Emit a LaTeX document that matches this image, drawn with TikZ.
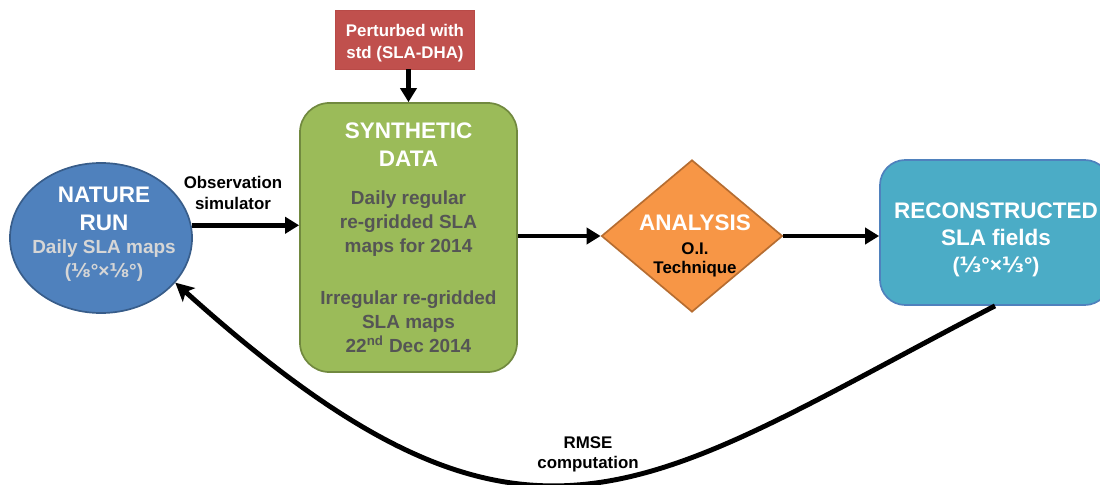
\documentclass[tikz,border=0pt]{standalone}
\usepackage{fontspec}
\setmainfont{Liberation Sans}
\newfontfamily\fracfont{DejaVu Sans}
\usetikzlibrary{shapes.geometric,arrows.meta}
\definecolor{natureblue}{HTML}{4F81BD}
\definecolor{natureline}{HTML}{385D8A}
\definecolor{naturegray}{HTML}{D6D6D6}
\definecolor{synthgreen}{HTML}{9BBB59}
\definecolor{synthline}{HTML}{71893F}
\definecolor{bodygray}{HTML}{555555}
\definecolor{perturbred}{HTML}{C0504D}
\definecolor{perturbline}{HTML}{B84A47}
\definecolor{analysisorange}{HTML}{F79646}
\definecolor{analysisline}{HTML}{B66D31}
\definecolor{reconteal}{HTML}{4BACC6}
\definecolor{reconline}{HTML}{4F81BD}
\begin{document}
\begin{tikzpicture}[x=0.025cm,y=-0.025cm,
box/.style={draw,line width=1.2pt,inner sep=0},
title/.style={align=center,text=white,font=\bfseries\fontsize{16}{20}\selectfont},
body/.style={align=center,text=bodygray,font=\bfseries\fontsize{13.5}{17}\selectfont},
note/.style={align=center,font=\bfseries\fontsize{12}{15}\selectfont},
flow/.style={-{Triangle[length=10pt,width=11.5pt]},line width=3.3pt},
rmse/.style={-{Stealth[length=13pt,width=13pt,inset=3pt]},line width=3.5pt},
]
\useasboundingbox(0,0)rectangle(1100,485);
%nature run
\node[box,ellipse,draw=natureline,fill=natureblue,minimum width=4.55cm,minimum height=3.75cm](nature)at(101,238){};
\node[title](naturetitle)at(104,208.5){NATURE\\RUN};
\node[body,text=naturegray](naturebody)at(104,261){Daily SLA maps\\({\fracfont ⅛}°×{\fracfont ⅛}°)};
%observation simulator
\node[note](obslabel)at(233,193){Observation\\simulator};
%perturbation
\node[box,line width=0.6pt,draw=perturbline,fill=perturbred,minimum width=3.475cm,minimum height=1.475cm](perturb)at(404.5,39.5){};
\node[note,text=white,font=\bfseries\fontsize{12}{15.6}\selectfont](perturbtext)at(405,43){Perturbed with\\std (SLA-DHA)};
%synthetic data
\node[box,rounded corners=21pt,draw=synthline,fill=synthgreen,minimum width=5.425cm,minimum height=6.725cm](synth)at(408.5,237.5){};
\node[title](synthtitle)at(408.5,144.5){SYNTHETIC\\DATA};
\node[body](synthdaily)at(408.5,223.5){Daily regular\\re-gridded SLA\\maps for 2014};
\node[body](synthirreg)at(408.5,322){Irregular re-gridded\\SLA maps\\22\textsuperscript{nd} Dec 2014};
%analysis
\node[box,diamond,draw=analysisline,fill=analysisorange,minimum width=4.525cm,minimum height=3.8cm](analysis)at(692,236){};
\node[title](analysistitle)at(695,223){ANALYSIS};
\node[note,font=\bfseries\fontsize{12}{13.5}\selectfont](analysisnote)at(695,260){O.I.\\Technique};
%reconstructed fields
\node[box,rounded corners=18pt,draw=reconline,fill=reconteal,minimum width=5.75cm,minimum height=3.625cm](recon)at(995,232.5){};
\node[title,font=\bfseries\fontsize{16}{19.2}\selectfont](recontitle)at(996,224.5){RECONSTRUCTED\\SLA fields};
\node[title,font=\bfseries\fontsize{15}{18}\selectfont](reconres)at(996,266.5){({\fracfont ⅓}°×{\fracfont ⅓}°)};

%arrows
\draw[flow](nature.8)--(nature.8 -| synth.west);
\draw[flow](perturb.south -| synth.north)--(synth.north);
\draw[flow](analysis.west -| synth.east)--(analysis.west);
\draw[flow](analysis.east)--(analysis.east -| recon.west);
%rmse loop
\draw[rmse](recon.south)..controls(640,490)and(530,602)..(nature.-31);
\node[note,font=\bfseries\fontsize{12}{14.2}\selectfont](rmselabel)at(588,454){RMSE\\computation};

\end{tikzpicture}
\end{document}
